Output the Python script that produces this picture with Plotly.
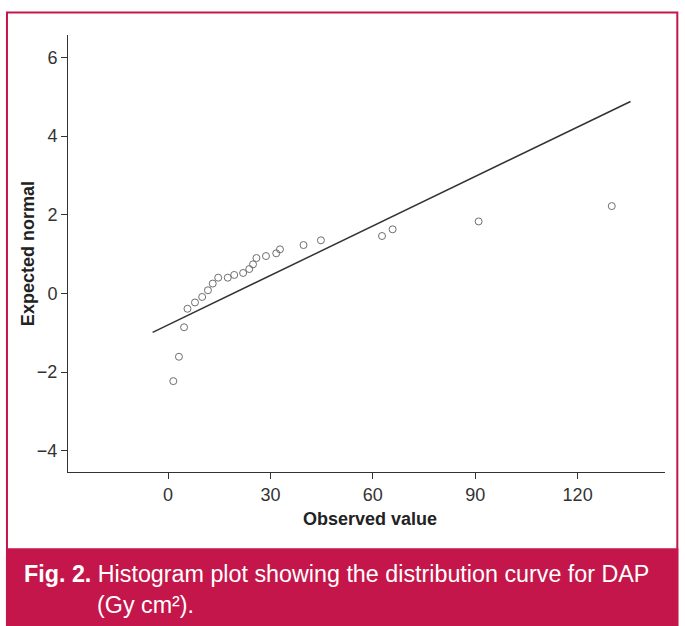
import plotly.graph_objects as go

observed = [1.55, 3.2, 4.7, 5.7, 7.9, 10.0, 11.7, 13.1, 14.7, 17.5, 19.4, 22.0,
            23.8, 24.9, 25.9, 28.7, 31.7, 32.8, 39.7, 44.8, 62.7, 65.8, 91.0, 130.0]
expected = [-2.23, -1.61, -0.86, -0.39, -0.23, -0.09, 0.08, 0.25, 0.40, 0.40, 0.47, 0.52,
            0.62, 0.74, 0.90, 0.95, 1.02, 1.12, 1.23, 1.35, 1.46, 1.63, 1.83, 2.22]

# reference line end points
line_x = [-4.5, 135.5]
line_y = [-0.99, 4.88]

x_ticks = [0, 30, 60, 90, 120]
y_ticks = [-4, -2, 0, 2, 4, 6]

CRIMSON = "#c4164a"
FONT = "Liberation Sans, Arial, sans-serif"
W, H = 685, 626
L, R, T, B = 68, 664.7, 35, 471.7


# pixel -> paper coords
def px(p):
    return (p - L) / (R - L)


def py(p):
    return (B - p) / (B - T)


fig = go.Figure()

fig.add_trace(go.Scatter(x=line_x, y=line_y, mode="lines",
                         line=dict(color="#333333", width=1.5), hoverinfo="skip"))
fig.add_trace(go.Scatter(x=observed, y=expected, mode="markers",
                         marker=dict(symbol="circle-open", size=7, color="#6e6e6e",
                                     line=dict(width=1))))

axis_common = dict(showgrid=False, zeroline=False, showline=True, linecolor="#333333",
                   linewidth=1, ticks="outside", ticklen=6, tickcolor="#333333",
                   tickfont=dict(family=FONT, size=18, color="#333333"))

fig.update_xaxes(range=[-29.3, 145.6], tickvals=x_ticks, **axis_common)
fig.update_yaxes(range=[-4.54, 6.57], tickvals=y_ticks, **axis_common)

fig.update_layout(
    width=W, height=H,
    margin=dict(l=L, r=W - R, t=T, b=H - B),
    paper_bgcolor="white", plot_bgcolor="white",
    showlegend=False,
    shapes=[
        # outer frame
        dict(type="rect", xref="paper", yref="paper",
             x0=px(7), x1=px(677), y0=py(640), y1=py(12.5),
             line=dict(color=CRIMSON, width=2), layer="below"),
        # caption band
        dict(type="rect", xref="paper", yref="paper",
             x0=px(6), x1=px(678), y0=py(640), y1=py(548),
             fillcolor=CRIMSON, line=dict(width=0), layer="below"),
    ],
    annotations=[
        dict(text="<b>Observed value</b>", xref="paper", yref="paper",
             x=px(370), y=py(519), showarrow=False, xanchor="center", yanchor="middle",
             font=dict(family=FONT, size=18, color="#222222")),
        dict(text="<b>Expected normal</b>", xref="paper", yref="paper", textangle=-90,
             x=px(28), y=py(253), showarrow=False, xanchor="center", yanchor="middle",
             font=dict(family=FONT, size=18, color="#222222")),
        dict(text="<b>Fig. 2.</b> Histogram plot showing the distribution curve for DAP",
             xref="paper", yref="paper", x=px(22), y=py(574), showarrow=False,
             xanchor="left", yanchor="middle",
             font=dict(family=FONT, size=23.3, color="white")),
        dict(text="(Gy cm²).",
             xref="paper", yref="paper", x=px(95), y=py(605), showarrow=False,
             xanchor="left", yanchor="middle",
             font=dict(family=FONT, size=23.3, color="white")),
    ],
)

# drop the browser's default body margin so the figure sits at 0,0
fig.write_html("out.html", config={"displayModeBar": False},
               post_script="document.body.style.margin='0';")
